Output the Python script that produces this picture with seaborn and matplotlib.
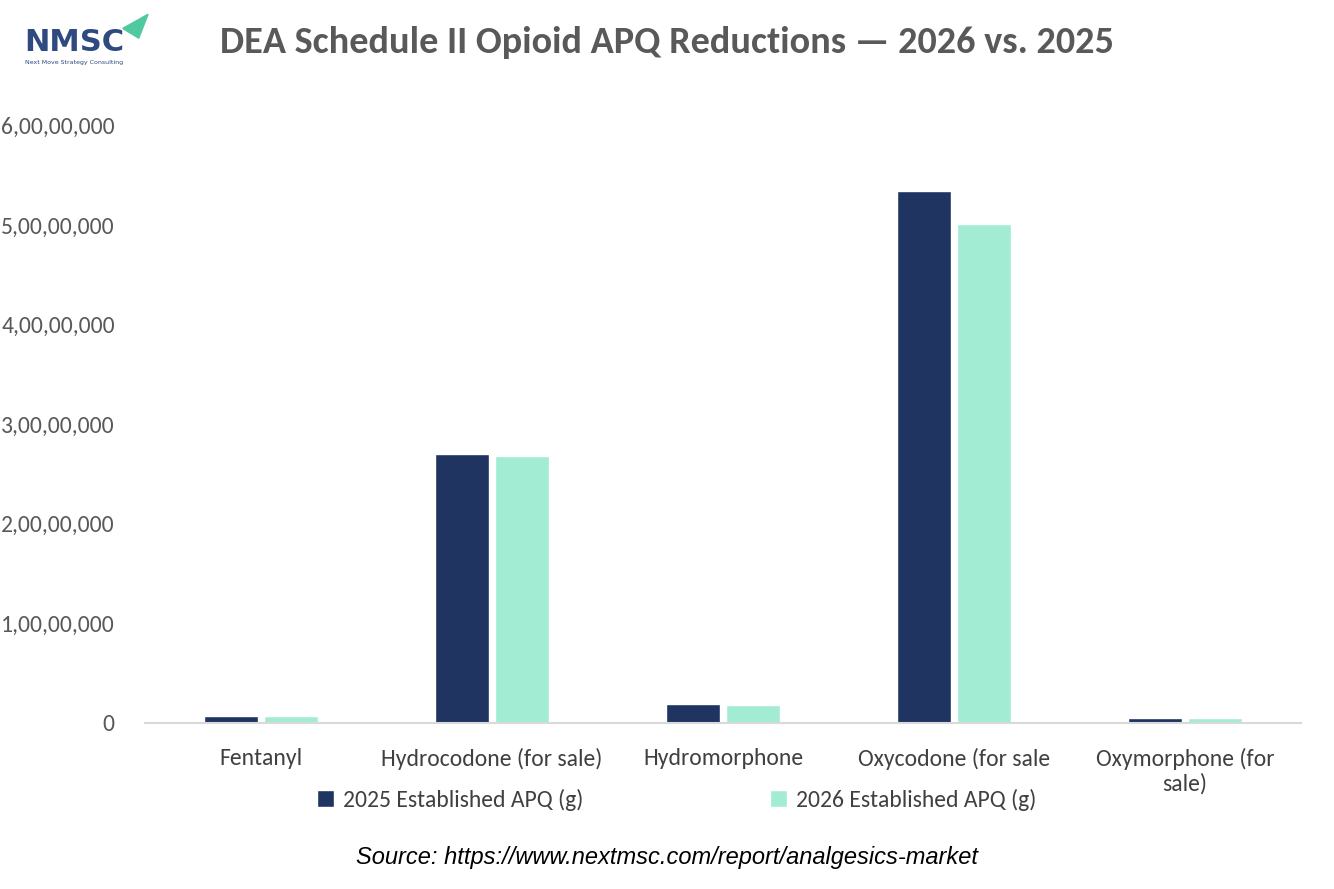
import pandas as pd
import matplotlib.pyplot as plt
import seaborn as sns
from matplotlib.ticker import FuncFormatter
from matplotlib.patches import Polygon

drugs = ["Fentanyl", "Hydrocodone (for sale)", "Hydromorphone", "Oxycodone (for sale", "Oxymorphone (for\nsale)"]
apq_2025 = [700000, 27000000, 1850000, 53400000, 450000]
apq_2026 = [680000, 26800000, 1830000, 50100000, 430000]
series = ["2025 Established APQ (g)", "2026 Established APQ (g)"]

df = pd.DataFrame({
    "drug": drugs * 2,
    "value": apq_2025 + apq_2026,
    "series": [series[0]] * 5 + [series[1]] * 5,
})

sns.set_style("white")
plt.rcParams["font.family"] = ["Calibri", "Carlito", "Liberation Sans", "DejaVu Sans"]

fig = plt.figure(figsize=(13.34, 8.89), dpi=100)
ax = fig.add_axes([0.109, 0.187, 0.866, 0.672])
sns.barplot(data=df, x="drug", y="value", hue="series", saturation=1,
            palette=["#1f3461", "#a2ecd3"], width=0.52, gap=0.11, ax=ax)

def indian(v, pos):
    v = int(round(v))
    if v == 0:
        return "0"
    s = str(v)
    last3, rest = s[-3:], s[:-3]
    parts = []
    while len(rest) > 2:
        parts.insert(0, rest[-2:])
        rest = rest[:-2]
    if rest:
        parts.insert(0, rest)
    return ",".join(parts + [last3])

ax.set_ylim(0, 60000000)
ax.yaxis.set_major_formatter(FuncFormatter(indian))
ax.tick_params(axis="y", labelsize=17, colors="#595959", length=0, pad=22)
ax.tick_params(axis="x", labelsize=17, colors="#404040", length=0, pad=18)
ax.set_xlabel("")
ax.set_ylabel("")
for s in ["top", "right", "left"]:
    ax.spines[s].set_visible(False)
ax.spines["bottom"].set_color("#d9d9d9")
ax.spines["bottom"].set_linewidth(1.5)

ax.legend(loc="upper center", bbox_to_anchor=(0.46, -0.075), ncol=2, frameon=False,
          fontsize=17, labelcolor="#404040", handlelength=0.7, handleheight=0.7,
          columnspacing=7.9, handletextpad=0.4)

fig.text(0.5, 0.952, "DEA Schedule II Opioid APQ Reductions — 2026 vs. 2025",
         ha="center", va="center", fontsize=27.5, fontweight="bold", color="#595959")
fig.text(0.5, 0.035, "Source: https://www.nextmsc.com/report/analgesics-market",
         ha="center", va="center", fontsize=17, style="italic", color="black",
         family="Liberation Sans")

# logo
fig.text(0.018, 0.952, "NMSC", ha="left", va="center", fontsize=22,
         fontweight="bold", color="#2f4a80", family="DejaVu Sans")
fig.text(0.019, 0.93, "Next Move Strategy Consulting", ha="left", va="center",
         fontsize=4.5, color="#2f4a80", family="DejaVu Sans")
fig.patches.append(Polygon([[0.092, 0.968], [0.111, 0.984], [0.104, 0.957]],
                           closed=True, transform=fig.transFigure,
                           color="#4fc9a0", figure=fig))

fig.savefig("out.png", dpi=100)
